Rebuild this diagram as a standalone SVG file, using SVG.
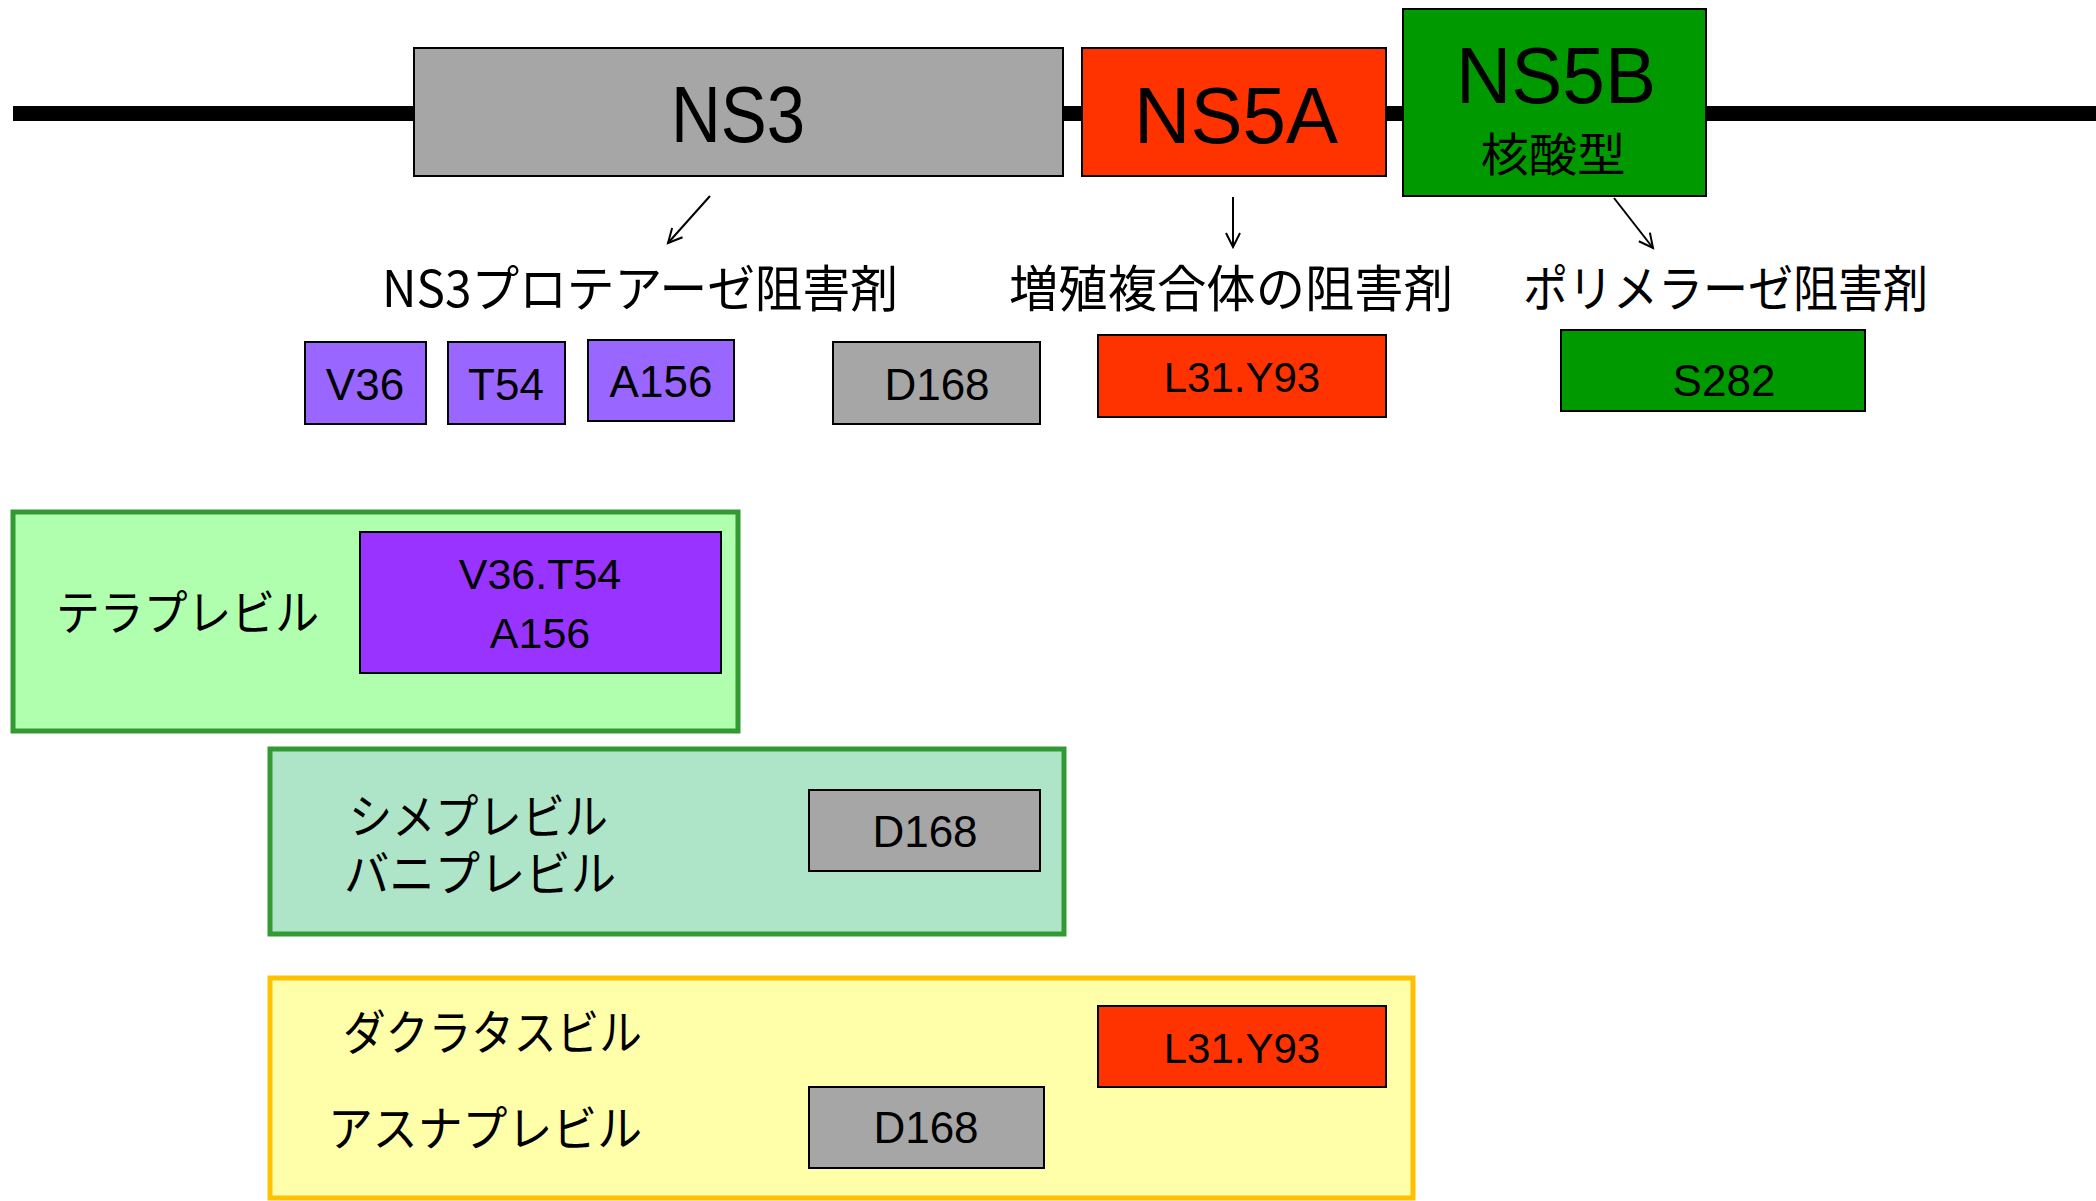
<svg xmlns="http://www.w3.org/2000/svg" width="2096" height="1201" viewBox="0 0 2096 1201">
<style>
.bx{stroke:#000;stroke-width:2}
.gray{fill:#A6A6A6}
.red{fill:#FF3300}
.grn{fill:#009900}
.pl{fill:#9966FF}
.pd{fill:#9933FF}
.lat{font-family:"Liberation Sans",Arial,sans-serif;fill:#000;text-anchor:middle}
.jp{font-family:"Noto Sans CJK JP","Liberation Sans",sans-serif;fill:#000}
.con{stroke:#000;stroke-width:2;fill:none}
</style>
<defs>
<marker id="ah" markerUnits="userSpaceOnUse" markerWidth="20" markerHeight="20" refX="16" refY="8" orient="auto">
<path d="M2,1 L16,8 L2,15" fill="none" stroke="#000" stroke-width="2"/>
</marker>
</defs>
<rect width="2096" height="1201" fill="#fff"/>
<rect id="backbone" x="13" y="106" width="2083" height="15" fill="#000"/>

<g id="ns3">
<rect class="bx gray" x="414" y="48" width="649" height="128"/>
<text class="lat" x="738" y="142" font-size="80" textLength="134" lengthAdjust="spacingAndGlyphs">NS3</text>
</g>
<g id="ns5a">
<rect class="bx red" x="1082" y="48" width="304" height="128"/>
<text class="lat" x="1236" y="143" font-size="80" textLength="204" lengthAdjust="spacingAndGlyphs">NS5A</text>
</g>
<g id="ns5b">
<rect class="bx grn" x="1403" y="9" width="303" height="187"/>
<text class="lat" x="1556" y="103" font-size="80" textLength="200" lengthAdjust="spacingAndGlyphs">NS5B</text>
<text class="jp" x="1553" y="171" font-size="46" text-anchor="middle" textLength="145" lengthAdjust="spacingAndGlyphs">核酸型</text>
</g>

<g id="connectors">
<line class="con" x1="710" y1="196" x2="668" y2="243" marker-end="url(#ah)"/>
<line class="con" x1="1233" y1="197" x2="1233" y2="247" marker-end="url(#ah)"/>
<line class="con" x1="1614" y1="198" x2="1653" y2="248" marker-end="url(#ah)"/>
</g>

<g id="label-ns3pi"><text class="jp" x="382" y="307" font-size="50" textLength="516" lengthAdjust="spacingAndGlyphs">NS3プロテアーゼ阻害剤</text></g>
<g id="label-ns5a"><text class="jp" x="1009" y="307" font-size="50" textLength="444" lengthAdjust="spacingAndGlyphs">増殖複合体の阻害剤</text></g>
<g id="label-ns5b"><text class="jp" x="1523" y="307" font-size="50" textLength="405" lengthAdjust="spacingAndGlyphs">ポリメラーゼ阻害剤</text></g>

<g id="v36"><rect class="bx pl" x="305" y="342" width="121" height="82"/><text class="lat" x="365" y="400" font-size="44">V36</text></g>
<g id="t54"><rect class="bx pl" x="448" y="342" width="117" height="82"/><text class="lat" x="506" y="400" font-size="44">T54</text></g>
<g id="a156"><rect class="bx pl" x="588" y="340" width="146" height="81"/><text class="lat" x="661" y="397" font-size="44">A156</text></g>
<g id="d168-top"><rect class="bx gray" x="833" y="342" width="207" height="82"/><text class="lat" x="937" y="400" font-size="44">D168</text></g>
<g id="l31-top"><rect class="bx red" x="1098" y="335" width="288" height="82"/><text class="lat" x="1242" y="392" font-size="42">L31.Y93</text></g>
<g id="s282"><rect class="bx grn" x="1561" y="330" width="304" height="81"/><text class="lat" x="1724" y="396" font-size="44">S282</text></g>

<g id="telaprevir">
<rect x="13" y="512" width="725" height="219" fill="#AFFFAF" stroke="#339933" stroke-width="5"/>
<text class="jp" x="56" y="630" font-size="48" textLength="263" lengthAdjust="spacingAndGlyphs">テラプレビル</text>
<rect class="bx pd" x="360" y="532" width="361" height="141"/>
<text class="lat" x="540" y="589" font-size="43">V36.T54</text>
<text class="lat" x="540" y="648" font-size="43">A156</text>
</g>

<g id="simeprevir">
<rect x="270" y="749" width="794" height="185" fill="#AEE5C8" stroke="#339933" stroke-width="5"/>
<text class="jp" x="349" y="834" font-size="48" textLength="259" lengthAdjust="spacingAndGlyphs">シメプレビル</text>
<text class="jp" x="344" y="891" font-size="48" textLength="272" lengthAdjust="spacingAndGlyphs">バニプレビル</text>
<rect class="bx gray" x="809" y="790" width="231" height="81"/>
<text class="lat" x="925" y="847" font-size="44">D168</text>
</g>

<g id="daclatasvir">
<rect x="270" y="978" width="1143" height="220" fill="#FFFFAA" stroke="#FFC000" stroke-width="5"/>
<text class="jp" x="343" y="1050" font-size="48" textLength="299" lengthAdjust="spacingAndGlyphs">ダクラタスビル</text>
<text class="jp" x="328" y="1146" font-size="48" textLength="314" lengthAdjust="spacingAndGlyphs">アスナプレビル</text>
<rect class="bx red" x="1098" y="1006" width="288" height="81"/>
<text class="lat" x="1242" y="1063" font-size="42">L31.Y93</text>
<rect class="bx gray" x="809" y="1087" width="235" height="81"/>
<text class="lat" x="926" y="1143" font-size="44">D168</text>
</g>
</svg>
